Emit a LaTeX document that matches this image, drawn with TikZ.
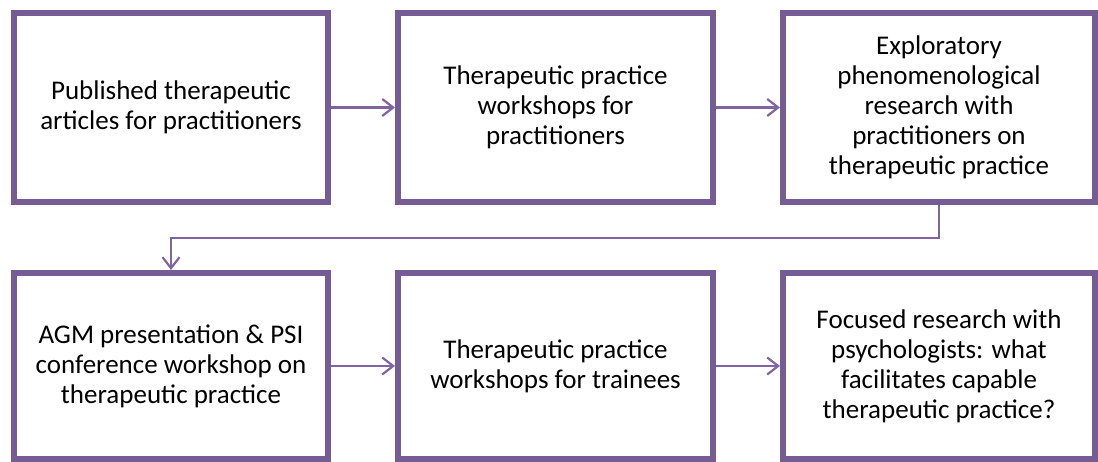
\documentclass[tikz,border=0pt]{standalone}
\usepackage{fontspec}
\setmainfont{Carlito}
\usetikzlibrary{arrows.meta,shadows}
\definecolor{boxpurple}{HTML}{765C95}
\definecolor{arrowpurple}{HTML}{8064A2}
\tikzset{
  stagebox/.style={draw=boxpurple, line width=6pt, fill=white, align=center,
    font=\fontsize{27}{30}\selectfont, text=black, inner sep=0pt,
    drop shadow={shadow xshift=1pt, shadow yshift=-3pt, opacity=0.25, fill=black}},
  toprow/.style={stagebox, minimum height=189pt},
  botrow/.style={stagebox, minimum height=186pt},
  flow/.style={draw=arrowpurple, line width=2.2pt,
    -{Straight Barb[length=11pt, width=17pt, line width=2.2pt]}}
}
\begin{document}
\begin{tikzpicture}[x=1pt,y=1pt]
\useasboundingbox (0,0) rectangle (1098,462);
\node[toprow, minimum width=314pt] (b1) at (171,354.5) {Published therapeutic\\articles for practitioners};
\node[toprow, minimum width=315pt] (b2) at (555.5,354.5) {Therapeutic practice\\workshops for\\practitioners};
\node[toprow, minimum width=312pt] (b3) at (939,354.5) {Exploratory\\phenomenological\\research with\\practitioners on\\therapeutic practice};
\node[botrow, minimum width=314pt] (b4) at (171,96) {AGM presentation \& PSI\\conference workshop on\\therapeutic practice};
\node[botrow, minimum width=315pt] (b5) at (555.5,96) {Therapeutic practice\\workshops for trainees};
\node[botrow, minimum width=312pt] (b6) at (939,96) {Focused research with\\psychologists: what\\facilitates capable\\therapeutic practice?};
\coordinate (mid) at (555,224);
\draw[flow] (b1.east) -- (b2.west);
\draw[flow] (b2.east) -- (b3.west);
\draw[flow] (b3.south) -- (b3.south |- mid) -| (b4.north);
\draw[flow] (b4.east) -- (b5.west);
\draw[flow] (b5.east) -- (b6.west);
\end{tikzpicture}
\end{document}
